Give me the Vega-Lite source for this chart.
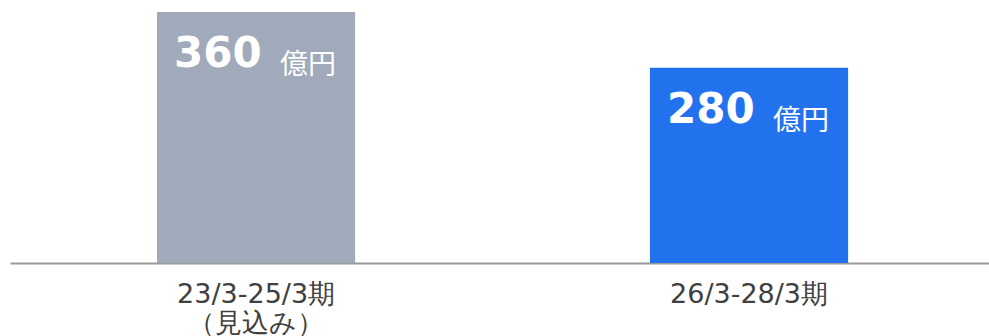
{
  "$schema": "https://vega.github.io/schema/vega-lite/v6.json",
  "width": 979,
  "height": 263,
  "autosize": {"type": "none"},
  "padding": {"left": 10, "right": 0, "top": 0, "bottom": 73},
  "background": "white",
  "config": {"view": {"stroke": null}},
  "data": {
    "values": [
      {"period": "23/3-25/3期（見込み）", "value": 360, "unit": "億円"},
      {"period": "26/3-28/3期", "value": 280, "unit": "億円"}
    ]
  },
  "encoding": {
    "x": {
      "field": "period",
      "type": "nominal",
      "sort": null,
      "scale": {"paddingInner": 0.598, "paddingOuter": 0.292, "align": 0.5106},
      "axis": {
        "title": null,
        "domainColor": "#999999",
        "domainWidth": 2,
        "ticks": false,
        "tickSize": 0,
        "labelPadding": 18,
        "labelFont": "DejaVu Sans",
        "labelFontSize": 27,
        "labelColor": "#404040",
        "labelLineHeight": 29,
        "labelAngle": 0,
        "labelLimit": 400,
        "labelExpr": "indexof(datum.label,'（')>0 ? [substring(datum.label,0,indexof(datum.label,'（')), substring(datum.label,indexof(datum.label,'（'))] : datum.label"
      }
    },
    "y": {
      "field": "value",
      "type": "quantitative",
      "scale": {"domain": [0, 377.2]},
      "axis": null
    }
  },
  "layer": [
    {
      "mark": {"type": "bar"},
      "encoding": {
        "color": {
          "field": "period",
          "type": "nominal",
          "scale": {"range": ["#A0AABB", "#2272EE"]},
          "legend": null
        }
      }
    },
    {
      "mark": {"type": "text", "font": "DejaVu Sans", "fontWeight": "bold", "fontSize": 42, "color": "white", "align": "left", "baseline": "alphabetic", "dx": -82, "dy": 55},
      "encoding": {"text": {"field": "value", "type": "quantitative"}}
    },
    {
      "mark": {"type": "text", "font": "Noto Sans CJK JP", "fontSize": 28, "color": "white", "align": "left", "baseline": "alphabetic", "dx": 24, "dy": 62},
      "encoding": {"text": {"field": "unit", "type": "nominal"}}
    }
  ]
}
